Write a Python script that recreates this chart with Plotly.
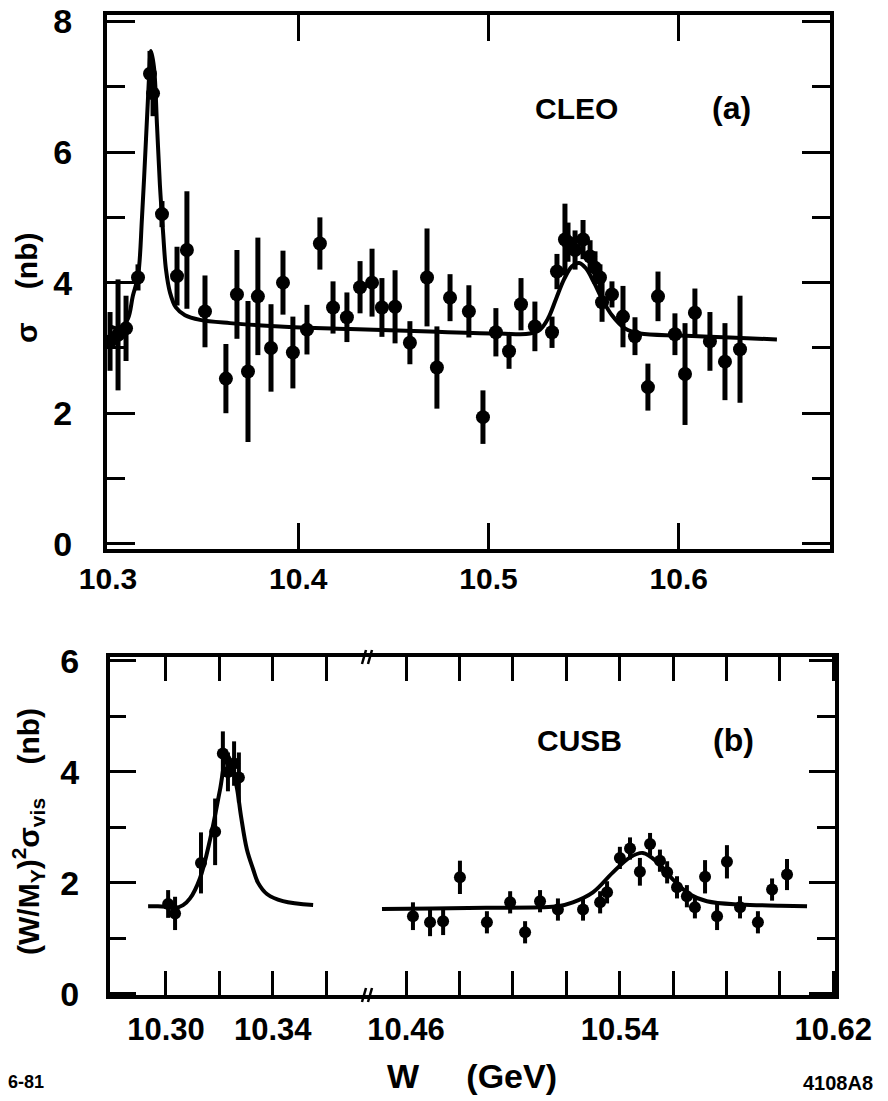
import plotly.graph_objects as go

W, H = 888, 1101
FONT = "Liberation Sans, Arial, sans-serif"

# ---------------- Panel (a): CLEO ----------------
cleo_w = [10.3011, 10.3053, 10.3095, 10.3158, 10.3221, 10.3237, 10.3284, 10.3363, 10.3415,
          10.351, 10.362, 10.3678, 10.3736, 10.3788, 10.3857, 10.392, 10.3972, 10.4046, 10.4114,
          10.4183, 10.4256, 10.4325, 10.4388, 10.444, 10.4509, 10.4587, 10.4677, 10.4729, 10.4798,
          10.4897, 10.4971, 10.5039, 10.5108, 10.5171, 10.5244, 10.5334, 10.536, 10.5402, 10.5418,
          10.5455, 10.5497, 10.5534, 10.556, 10.5586, 10.5597, 10.5649, 10.5707, 10.577, 10.5838,
          10.5891, 10.598, 10.6033, 10.6085, 10.6164, 10.6243, 10.6322]
cleo_sigma = [3.1, 3.2, 3.3, 4.08, 7.2, 6.9, 5.05, 4.1, 4.5,
              3.56, 2.53, 3.82, 2.64, 3.79, 3.0, 4.0, 2.93, 3.28, 4.6,
              3.62, 3.47, 3.93, 4.0, 3.62, 3.63, 3.08, 4.08, 2.7, 3.77,
              3.56, 1.94, 3.24, 2.95, 3.67, 3.33, 3.24, 4.17, 4.66, 4.62,
              4.5, 4.66, 4.4, 4.23, 4.08, 3.7, 3.82, 3.48, 3.18, 2.4,
              3.79, 3.21, 2.6, 3.54, 3.1, 2.79, 2.98]
cleo_err = [0.45, 0.85, 0.5, 0.2, 0.35, 0.35, 0.2, 0.45, 0.9,
            0.55, 0.53, 0.68, 1.08, 0.9, 0.67, 0.49, 0.55, 0.38, 0.4,
            0.4, 0.38, 0.4, 0.52, 0.45, 0.56, 0.33, 0.75, 0.63, 0.36,
            0.4, 0.41, 0.37, 0.27, 0.4, 0.38, 0.24, 0.27, 0.55, 0.3,
            0.3, 0.3, 0.25, 0.25, 0.2, 0.3, 0.2, 0.47, 0.29, 0.36,
            0.38, 0.32, 0.78, 0.37, 0.45, 0.59, 0.82]

cleo_fit_w = [10.301, 10.3063, 10.3105, 10.3131, 10.3158, 10.3179, 10.32, 10.3215, 10.3226,
              10.3242, 10.3258, 10.3273, 10.3289, 10.3305, 10.3326, 10.3357, 10.3405, 10.3484,
              10.3641, 10.3904, 10.4272, 10.4692, 10.506, 10.5218, 10.5271, 10.5313, 10.5355,
              10.5397, 10.5439, 10.5476, 10.5512, 10.5555, 10.5597, 10.5649, 10.5717, 10.5796,
              10.6007, 10.6269, 10.6516]
cleo_fit_sigma = [3.33, 3.30, 3.45, 3.8, 4.1, 5.0, 6.2, 7.1, 7.55,
                  7.3, 6.4, 5.5, 4.8, 4.2, 3.85, 3.62, 3.5, 3.43,
                  3.38, 3.33, 3.29, 3.25, 3.22, 3.22, 3.28, 3.45, 3.75,
                  4.05, 4.25, 4.3, 4.22, 4.0, 3.75, 3.5, 3.3, 3.22,
                  3.19, 3.16, 3.13]

# ---------------- Panel (b): CUSB ----------------
cusb_w_low = [10.3008, 10.3034, 10.3131, 10.3184, 10.3213, 10.3232, 10.3255, 10.3273]
cusb_y_low = [1.62, 1.45, 2.36, 2.92, 4.33, 4.0, 4.15, 3.9]
cusb_err_low = [0.25, 0.3, 0.55, 0.6, 0.4, 0.35, 0.4, 0.45]

cusb_fit_w_low = [10.2933, 10.2970, 10.3000, 10.3034, 10.3064, 10.3090, 10.3127, 10.3165,
                  10.3202, 10.3228, 10.3245, 10.3266, 10.3281, 10.3303, 10.3326, 10.3345,
                  10.3378, 10.3438, 10.3551]
cusb_fit_y_low = [1.58, 1.58, 1.57, 1.55, 1.6, 1.72, 2.08, 2.78,
                  3.67, 4.3, 4.15, 3.7, 3.2, 2.6, 2.25, 2.0,
                  1.8, 1.67, 1.6]

cusb_w_high = [10.4626, 10.469, 10.4739, 10.4802, 10.4903, 10.499, 10.5046, 10.5102, 10.5169,
               10.5263, 10.5327, 10.5353, 10.5401, 10.5439, 10.5476, 10.5514, 10.5551, 10.5578,
               10.5615, 10.5652, 10.5682, 10.572, 10.5765, 10.5802, 10.5851, 10.5918, 10.5971,
               10.6027]
cusb_y_high = [1.4, 1.29, 1.31, 2.1, 1.29, 1.65, 1.11, 1.67, 1.52,
               1.52, 1.65, 1.83, 2.45, 2.62, 2.2, 2.7, 2.4, 2.19,
               1.92, 1.76, 1.56, 2.11, 1.4, 2.38, 1.56, 1.29, 1.88,
               2.15]
cusb_err_high = [0.25, 0.25, 0.25, 0.3, 0.2, 0.2, 0.2, 0.2, 0.2,
                 0.2, 0.2, 0.2, 0.2, 0.2, 0.25, 0.2, 0.2, 0.2,
                 0.2, 0.2, 0.2, 0.3, 0.25, 0.3, 0.2, 0.2, 0.2,
                 0.28]

cusb_fit_w_high = [10.451, 10.47, 10.49, 10.51, 10.5169, 10.5225, 10.53, 10.5375, 10.5439,
                   10.5487, 10.554, 10.56, 10.5664, 10.5727, 10.5851, 10.60, 10.6102]
cusb_fit_y_high = [1.53, 1.54, 1.55, 1.56, 1.58, 1.65, 1.83, 2.19, 2.46,
                   2.54, 2.38, 2.06, 1.79, 1.67, 1.61, 1.59, 1.58]

top_xticks = [10.3, 10.4, 10.5, 10.6]
top_xlabels = ["10.3", "10.4", "10.5", "10.6"]
low_xticks = [10.30, 10.34]
low_xlabels = ["10.30", "10.34"]
low_xminor = [10.32, 10.36]
high_xticks = [10.46, 10.54, 10.62]
high_xlabels = ["10.46", "10.54", "10.62"]
high_xminor = [10.48, 10.50, 10.52, 10.56, 10.58, 10.60]
top_yticks = [0, 2, 4, 6, 8]
top_yminor = [1, 3, 5, 7]
bot_yticks = [0, 2, 4, 6]
bot_yminor = [1, 3, 5]


def px(x):
    return x / W


def py(y):
    return 1 - y / H


fig = go.Figure()

pt = dict(color="black", size=14)
eb = dict(type="data", visible=True, color="black", thickness=5, width=0)

fig.add_trace(go.Scatter(x=cleo_fit_w, y=cleo_fit_sigma, mode="lines",
                         line=dict(color="black", width=4, shape="spline"),
                         xaxis="x", yaxis="y", showlegend=False, hoverinfo="skip"))
fig.add_trace(go.Scatter(x=cleo_w, y=cleo_sigma, mode="markers", marker=pt,
                         error_y=dict(array=cleo_err, **eb),
                         xaxis="x", yaxis="y", showlegend=False))

fig.add_trace(go.Scatter(x=cusb_fit_w_low, y=cusb_fit_y_low, mode="lines",
                         line=dict(color="black", width=4, shape="spline"),
                         xaxis="x2", yaxis="y2", showlegend=False, hoverinfo="skip"))
fig.add_trace(go.Scatter(x=cusb_w_low, y=cusb_y_low, mode="markers",
                         marker=dict(color="black", size=12),
                         error_y=dict(array=cusb_err_low, type="data", color="black",
                                      thickness=4, width=0),
                         xaxis="x2", yaxis="y2", showlegend=False))
fig.add_trace(go.Scatter(x=cusb_fit_w_high, y=cusb_fit_y_high, mode="lines",
                         line=dict(color="black", width=4, shape="spline"),
                         xaxis="x3", yaxis="y3", showlegend=False, hoverinfo="skip"))
fig.add_trace(go.Scatter(x=cusb_w_high, y=cusb_y_high, mode="markers",
                         marker=dict(color="black", size=12),
                         error_y=dict(array=cusb_err_high, type="data", color="black",
                                      thickness=4, width=0),
                         xaxis="x3", yaxis="y3", showlegend=False))

xfont_top = dict(family=FONT, size=30, color="black", weight="bold")
yfont = dict(family=FONT, size=34, color="black", weight="bold")
xfont_bot = dict(family=FONT, size=31, color="black", weight="bold")
common = dict(showline=True, linecolor="black", linewidth=4, showgrid=False,
              zeroline=False, ticks="inside", tickcolor="black", tickwidth=3,
              automargin=False)


def minor(vals, ln):
    return dict(tickvals=vals, ticklen=ln, ticks="inside", tickcolor="black", tickwidth=3)


fig.update_layout(
    width=W, height=H,
    margin=dict(l=0, r=0, t=0, b=0, autoexpand=False),
    paper_bgcolor="white", plot_bgcolor="white",
    showlegend=False,
    xaxis=dict(domain=[px(107), px(830)], range=[10.2995, 10.6795], anchor="y",
               tickvals=top_xticks, ticktext=top_xlabels, ticklen=26, mirror="ticks",
               tickfont=xfont_top, ticklabelstandoff=0, **common),
    yaxis=dict(domain=[py(549), py(15)], range=[-0.08, 8.1], anchor="x",
               tickvals=top_yticks, ticklen=28, mirror="ticks",
               minor=minor(top_yminor, 18),
               tickfont=yfont, ticklabelstandoff=24, **common),
    xaxis2=dict(domain=[px(110), px(367)], range=[10.27903, 10.37528], anchor="y2",
                tickvals=low_xticks, ticktext=low_xlabels, ticklen=24, mirror="ticks",
                minor=minor(low_xminor, 24),
                tickfont=xfont_bot, ticklabelstandoff=4, **common),
    yaxis2=dict(domain=[py(995), py(657)], range=[-0.02, 6.07], anchor="x2", side="left",
                tickvals=bot_yticks, ticklen=26,
                minor=minor(bot_yminor, 16),
                tickfont=yfont, ticklabelstandoff=20, **common),
    xaxis3=dict(domain=[px(367), px(835)], range=[10.44539, 10.62067], anchor="y3",
                tickvals=high_xticks, ticktext=high_xlabels, ticklen=24, mirror="ticks",
                minor=minor(high_xminor, 24),
                tickfont=xfont_bot, ticklabelstandoff=4, **common),
    yaxis3=dict(domain=[py(995), py(657)], range=[-0.02, 6.07], anchor="x3", side="right",
                tickvals=bot_yticks, ticklen=26, showticklabels=False,
                minor=minor(bot_yminor, 18),
                **common),
)


def note(text, x, y, size, angle=0, xanchor="center"):
    fig.add_annotation(text=text, x=px(x), y=py(y), xref="paper", yref="paper",
                       showarrow=False, textangle=angle, xanchor=xanchor, yanchor="middle",
                       font=dict(family=FONT, size=size, color="black", weight="bold"))


note("CLEO", 576, 108, 30)
note("(a)", 731, 108, 32)
note("CUSB", 579, 741, 30)
note("(b)", 733, 740, 32)
note("σ    (nb)", 26, 288, 30, angle=-90)
note("(W/M<sub>Υ</sub>)<sup>2</sup>σ<sub>vis</sub>    (nb)", 28, 832, 30, angle=-90)
note("W     (GeV)", 472, 1076, 34)
note("6-81", 26, 1082, 18)
note("4108A8", 838, 1083, 20)

# axis-break marks on the bottom panel frame
for yb in (657, 995):
    for xb in (364, 370):
        fig.add_shape(type="line", xref="paper", yref="paper",
                      x0=px(xb - 2), y0=py(yb + 7), x1=px(xb + 2), y1=py(yb - 7),
                      line=dict(color="black", width=2.5))

fig.write_html("out.html")
